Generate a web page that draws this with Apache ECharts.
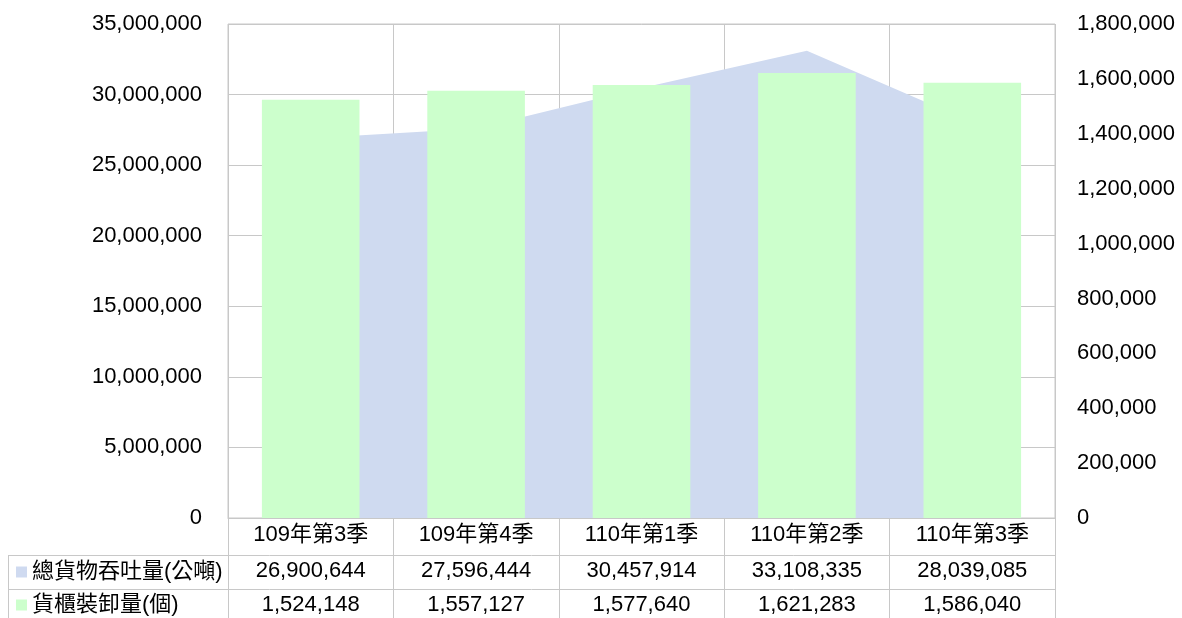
<!DOCTYPE html>
<html>
<head>
<meta charset="utf-8">
<script src="https://cdn.jsdelivr.net/npm/echarts@6/dist/echarts.min.js"></script>
<style>
  html, body { margin: 0; padding: 0; background: #fff; }
  #chart { width: 1182px; height: 618px; }
</style>
</head>
<body>
<div id="chart"></div>
<script>
// quarters on the x axis
const quarters = ["109年第3季", "109年第4季", "110年第1季", "110年第2季", "110年第3季"];
// total cargo throughput (tonnes), left axis
const throughput = [26900644, 27596444, 30457914, 33108335, 28039085];
// container handling (TEU count), right axis
const containers = [1524148, 1557127, 1577640, 1621283, 1586040];

const seriesNames = ["總貨物吞吐量(公噸)", "貨櫃裝卸量(個)"];

const FONT = "'Liberation Sans', 'Noto Sans CJK TC', sans-serif";
const GRID_COLOR = "#c8c8c8";
const fmt = (v) => Number(v).toLocaleString("en-US");

const chart = echarts.init(document.getElementById("chart"));

const option = {
  animation: false,
  textStyle: { fontFamily: FONT, color: "#000" },
  grid: { left: 228, right: 127, top: 24, bottom: 100, show: true, borderColor: GRID_COLOR, borderWidth: 1 },
  legend: [
    {
      data: [seriesNames[0]],
      left: 16, top: 561, padding: 0,
      icon: "rect", itemWidth: 11, itemHeight: 11, itemGap: 5,
      textStyle: { fontSize: 22, fontFamily: FONT, color: "#000" },
    },
    {
      data: [seriesNames[1]],
      left: 16, top: 594, padding: 0,
      icon: "rect", itemWidth: 11, itemHeight: 11, itemGap: 5,
      textStyle: { fontSize: 22, fontFamily: FONT, color: "#000" },
    },
  ],
  xAxis: [
    {
      type: "category",
      data: quarters,
      boundaryGap: true,
      axisLine: { show: true, lineStyle: { color: GRID_COLOR } },
      axisTick: { show: true, length: 100, inside: false, interval: 0, lineStyle: { color: GRID_COLOR } },
      axisLabel: { fontSize: 22, margin: 6, color: "#000", fontFamily: FONT, interval: 0 },
      splitLine: { show: true, interval: 0, lineStyle: { color: GRID_COLOR } },
    },
    {
      // data table row 1
      type: "category",
      data: throughput.map(fmt),
      position: "bottom",
      offset: 37,
      axisLine: { show: false },
      axisTick: { show: false },
      splitLine: { show: false },
      axisLabel: { fontSize: 22, margin: 5, color: "#000", fontFamily: FONT, interval: 0 },
    },
    {
      // data table row 2
      type: "category",
      data: containers.map(fmt),
      position: "bottom",
      offset: 71,
      axisLine: { show: false },
      axisTick: { show: false },
      splitLine: { show: false },
      axisLabel: { fontSize: 22, margin: 5, color: "#000", fontFamily: FONT, interval: 0 },
    },
  ],
  yAxis: [
    {
      type: "value",
      min: 0, max: 35000000, interval: 5000000,
      axisLine: { show: false },
      axisTick: { show: false },
      axisLabel: { fontSize: 22, margin: 26, color: "#000", fontFamily: FONT, formatter: fmt },
      splitLine: { show: true, lineStyle: { color: GRID_COLOR } },
    },
    {
      type: "value",
      min: 0, max: 1800000, interval: 200000,
      position: "right",
      axisLine: { show: false },
      axisTick: { show: false },
      axisLabel: { fontSize: 22, margin: 22, color: "#000", fontFamily: FONT, formatter: fmt },
      splitLine: { show: false },
    },
  ],
  series: [
    {
      name: seriesNames[0],
      type: "line",
      data: throughput,
      xAxisIndex: 0,
      yAxisIndex: 0,
      z: 2,
      showSymbol: false,
      symbol: "none",
      lineStyle: { width: 0, color: "#cfdaf0" },
      itemStyle: { color: "#cfdaf0" },
      areaStyle: { color: "#cfdaf0", opacity: 1 },
    },
    {
      name: seriesNames[1],
      type: "bar",
      data: containers,
      xAxisIndex: 0,
      yAxisIndex: 1,
      z: 5,
      barWidth: "59%",
      itemStyle: { color: "#ccffcc" },
    },
  ],
  graphic: [
    // table chrome: horizontal rules and left border
    { type: "line", shape: { x1: 8, y1: 555.5, x2: 1055, y2: 555.5 }, style: { stroke: GRID_COLOR, lineWidth: 1 } },
    { type: "line", shape: { x1: 8, y1: 589.5, x2: 1055, y2: 589.5 }, style: { stroke: GRID_COLOR, lineWidth: 1 } },
    { type: "line", shape: { x1: 8.5, y1: 555, x2: 8.5, y2: 618 }, style: { stroke: GRID_COLOR, lineWidth: 1 } },
  ],
};

chart.setOption(option);
</script>
</body>
</html>
